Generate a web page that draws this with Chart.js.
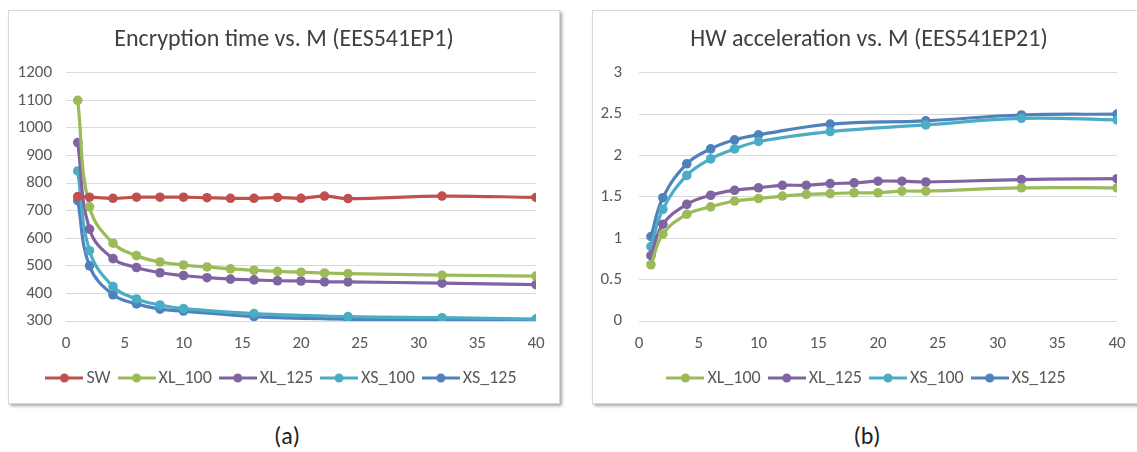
<!DOCTYPE html>
<html>
<head>
<meta charset="utf-8">
<script src="https://cdn.jsdelivr.net/npm/chart.js@4.4.1/dist/chart.umd.min.js"></script>
<style>
  html, body { margin: 0; padding: 0; background: #fff; overflow: hidden; }
  body { width: 1137px; height: 452px; position: relative; font-family: Carlito, Lato, "Open Sans", sans-serif; }
  .panel {
    position: absolute; top: 10px; height: 392px;
    border: 1px solid #d9d9d9; background: #fff;
    box-shadow: 2px 2px 3px rgba(0,0,0,0.35);
  }
  #panelA { left: 8px; width: 550px; }
  #panelB { left: 592px; width: 552px; }
  .panel canvas { display: block; }
  .caption { position: absolute; top: 421px; font-size: 24px; color: #222; transform: translateX(-50%); }
</style>
</head>
<body>
<div class="panel" id="panelA"><canvas id="chartA"></canvas></div>
<div class="panel" id="panelB"><canvas id="chartB"></canvas></div>
<div class="caption" style="left:287px">(a)</div>
<div class="caption" style="left:867px">(b)</div>
<script>
// M values measured for every configuration
const mFull = [1, 2, 4, 6, 8, 10, 12, 14, 16, 18, 20, 22, 24, 32, 40];
// the XS configurations were only measured at these M values
const mXS = [1, 2, 4, 6, 8, 10, 16, 24, 32, 40];

// Encryption time (EES541EP1)
const timeSW    = [751, 749, 745, 749, 749, 749, 747, 745, 745, 748, 745, 753, 744, 753, 748];
const timeXL100 = [1100, 714, 582, 537, 514, 503, 496, 489, 484, 480, 477, 474, 472, 466, 463];
const timeXL125 = [947, 633, 526, 494, 475, 465, 457, 452, 449, 446, 445, 442, 442, 437, 432];
const timeXS100 = [844, 555, 425, 380, 358, 345, 327, 316, 312, 307];
const timeXS125 = [737, 500, 395, 362, 343, 336, 316, 307, 302, 306];

// HW acceleration (EES541EP21)
const accXL100 = [0.68, 1.05, 1.29, 1.38, 1.45, 1.48, 1.51, 1.53, 1.54, 1.55, 1.55, 1.57, 1.57, 1.61, 1.61];
const accXL125 = [0.79, 1.17, 1.41, 1.52, 1.58, 1.61, 1.64, 1.64, 1.66, 1.67, 1.69, 1.69, 1.68, 1.71, 1.72];
const accXS100 = [0.90, 1.35, 1.76, 1.96, 2.08, 2.17, 2.29, 2.37, 2.45, 2.43];
const accXS125 = [1.02, 1.49, 1.90, 2.08, 2.19, 2.25, 2.38, 2.42, 2.49, 2.50];

// axis tick settings
const timeTicks = { min: 300, max: 1200, step: 100 };
const accTicks = { min: 0, max: 3, step: 0.5 };
const mTicks = { min: 0, max: 40, step: 5 };

const COLORS = {
  SW: '#C0504D',
  XL_100: '#9BBB59',
  XL_125: '#8064A2',
  XS_100: '#4BACC6',
  XS_125: '#4F81BD'
};

const FONT = 'Carlito, Lato, "Open Sans", sans-serif';
const TEXT = '#595959';

function pairs(xs, ys) { return xs.map((x, i) => ({ x: x, y: ys[i] })); }

// small line-with-marker swatch for the legend
function swatch(color) {
  const c = document.createElement('canvas');
  c.width = 38; c.height = 12;
  const g = c.getContext('2d');
  g.strokeStyle = color; g.lineWidth = 3; g.lineCap = 'butt';
  g.beginPath(); g.moveTo(0, 6); g.lineTo(38, 6); g.stroke();
  g.fillStyle = color;
  g.beginPath(); g.arc(19, 6, 4.5, 0, Math.PI * 2); g.fill();
  return c;
}

function series(label, xs, ys) {
  const col = COLORS[label];
  return {
    label: label,
    data: pairs(xs, ys),
    borderColor: col,
    backgroundColor: col,
    pointBackgroundColor: col,
    pointBorderColor: col,
    borderWidth: 3.2,
    pointRadius: 4.8,
    pointBorderWidth: 0,
    tension: 0.4,
    fill: false,
    yAxisID: 'y',
    legendSwatch: swatch(col)
  };
}

function makeChart(canvasId, width, title, datasets, yTicks, yFmt, yAxisWidth, yPad, rightGap) {
  const cv = document.getElementById(canvasId);
  cv.width = width; cv.height = 392;
  return new Chart(cv, {
    type: 'line',
    data: { datasets: datasets },
    options: {
      responsive: false,
      animation: false,
      events: [],
      layout: { padding: { left: 0, right: 0, top: 0, bottom: 6 } },
      scales: {
        x: {
          type: 'linear',
          min: mTicks.min, max: mTicks.max,
          border: { display: false },
          grid: { display: false, drawTicks: false },
          ticks: { stepSize: mTicks.step, padding: 13, color: TEXT, font: { family: FONT, size: 17 } },
          afterFit: (s) => { s.height = 35; }
        },
        y: {
          min: yTicks.min, max: yTicks.max,
          border: { display: false },
          grid: { color: '#d9d9d9', lineWidth: 1, drawTicks: false },
          ticks: { stepSize: yTicks.step, padding: yPad, color: TEXT, font: { family: FONT, size: 17 }, callback: yFmt },
          afterFit: (s) => { s.width = yAxisWidth; }
        },
        // empty margin on the right of the plot so title and legend stay centred on the panel
        gap: {
          position: 'right',
          min: 0, max: 1,
          border: { display: false },
          grid: { display: false, drawTicks: false },
          ticks: { display: false },
          afterFit: (s) => { s.width = rightGap; }
        }
      },
      plugins: {
        title: {
          display: true, text: title, color: '#404040',
          font: { family: FONT, size: 24, weight: 'normal' },
          padding: { top: 15, bottom: 18 }
        },
        legend: {
          display: true, position: 'bottom',
          labels: {
            usePointStyle: true, pointStyleWidth: 26, padding: 13,
            color: TEXT, font: { family: FONT, size: 18 },
            generateLabels: (chart) => chart.data.datasets.map((d, i) => ({
              text: d.label, pointStyle: d.legendSwatch, fillStyle: d.borderColor,
              strokeStyle: d.borderColor, lineWidth: 0, fontColor: TEXT,
              hidden: false, datasetIndex: i
            }))
          }
        },
        tooltip: { enabled: false }
      }
    }
  });
}

makeChart('chartA', 550, 'Encryption time vs. M (EES541EP1)', [
  series('SW', mFull, timeSW),
  series('XL_100', mFull, timeXL100),
  series('XL_125', mFull, timeXL125),
  series('XS_100', mXS, timeXS100),
  series('XS_125', mXS, timeXS125)
], timeTicks, (v) => v, 57, 14, 23);

makeChart('chartB', 552, 'HW acceleration vs. M (EES541EP21)', [
  series('XL_100', mFull, accXL100),
  series('XL_125', mFull, accXL125),
  series('XS_100', mXS, accXS100),
  series('XS_125', mXS, accXS125)
], accTicks, (v) => v, 46, 17, 28);
</script>
</body>
</html>
